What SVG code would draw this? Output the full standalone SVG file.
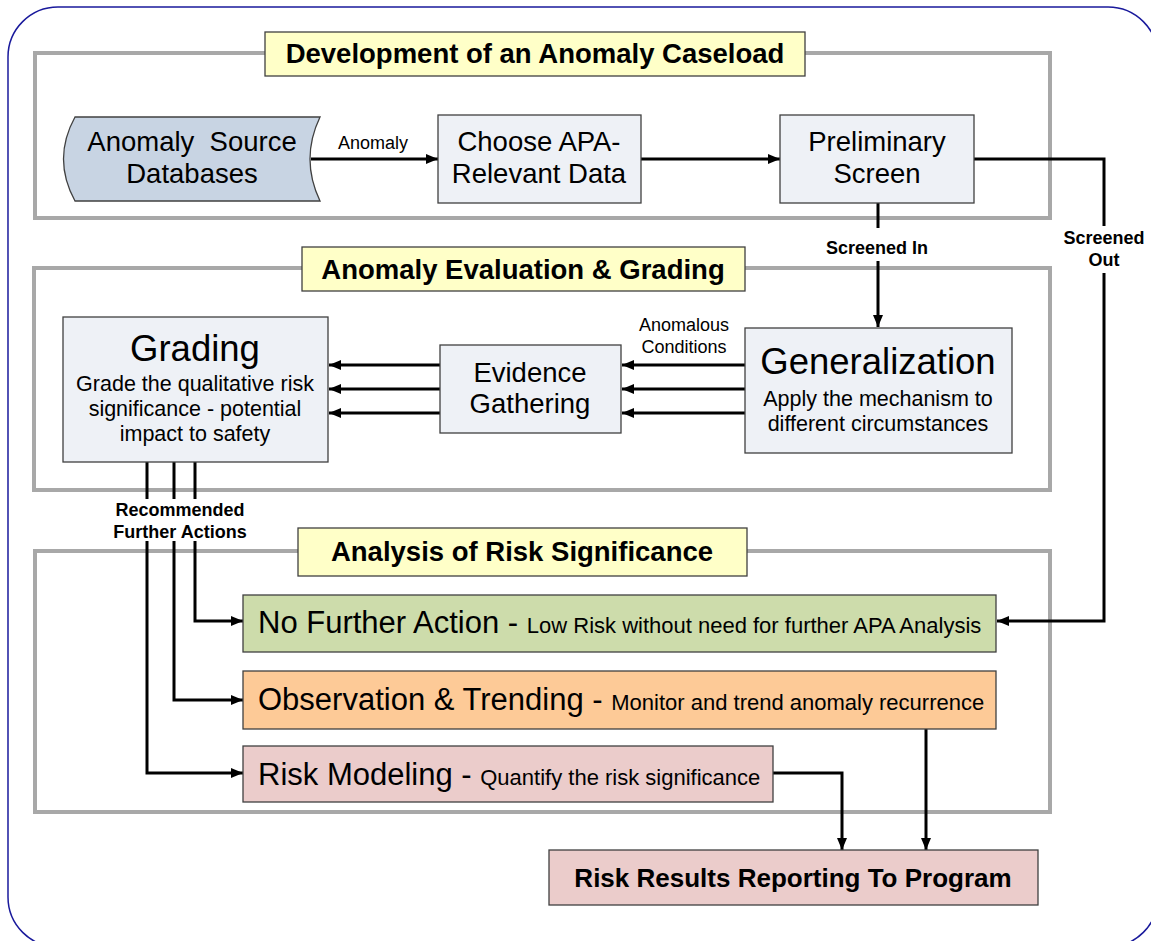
<svg xmlns="http://www.w3.org/2000/svg" width="1151" height="941" viewBox="0 0 1151 941">
<defs>
<marker id="ah" viewBox="0 0 12 10" refX="12" refY="5" markerWidth="12" markerHeight="10" markerUnits="userSpaceOnUse" orient="auto">
<path d="M0,0 L12,5 L0,10 Z" fill="#000"/>
</marker>
<style>
text{font-family:"Liberation Sans",Arial,sans-serif;fill:#000}
.panel{fill:none;stroke:#a8a8a8;stroke-width:4}
.title{fill:#ffffc8;stroke:#404040;stroke-width:1.3}
.tt{font-size:27.5px;font-weight:bold;text-anchor:middle}
.box{fill:#eef1f6;stroke:#404040;stroke-width:1.3}
.nt{font-size:27.5px;text-anchor:middle;white-space:pre}
.sub{font-size:21.5px;text-anchor:middle}
.big{font-size:36.5px;text-anchor:middle}
.lbl{font-size:18px;text-anchor:middle}
.blbl{font-size:18px;font-weight:bold;text-anchor:middle}
.c{fill:none;stroke:#000;stroke-width:3}
.ca{fill:none;stroke:#000;stroke-width:3;marker-end:url(#ah)}
</style>
</defs>
<rect x="8" y="7" width="1150" height="940" rx="50" ry="50" fill="#fff" stroke="#1a1a9c" stroke-width="1.5"/>

<g id="panels">
<rect class="panel" x="35" y="53" width="1015" height="165"/>
<rect class="panel" x="34" y="268" width="1016" height="222"/>
<rect class="panel" x="35" y="551" width="1015" height="261"/>
</g>

<g id="title1"><rect class="title" x="265" y="32" width="540" height="44"/><text class="tt" x="535" y="63">Development of an Anomaly Caseload</text></g>
<g id="title2"><rect class="title" x="302" y="247" width="443" height="44"/><text class="tt" x="523" y="279">Anomaly Evaluation &amp; Grading</text></g>
<g id="title3"><rect class="title" x="298" y="528" width="449" height="48"/><text class="tt" x="522" y="561">Analysis of Risk Significance</text></g>

<g id="connectors">
<line class="ca" x1="311" y1="159" x2="438" y2="159"/>
<line class="ca" x1="641" y1="159" x2="780" y2="159"/>
<path class="ca" d="M878,203 V327"/>
<path class="ca" d="M974,159 H1104 V621 H997"/>
<line class="ca" x1="745" y1="365" x2="622" y2="365"/>
<line class="ca" x1="745" y1="389" x2="622" y2="389"/>
<line class="ca" x1="745" y1="413" x2="622" y2="413"/>
<line class="ca" x1="440" y1="365" x2="329" y2="365"/>
<line class="ca" x1="440" y1="389" x2="329" y2="389"/>
<line class="ca" x1="440" y1="413" x2="329" y2="413"/>
<path class="ca" d="M195,462 V621 H243"/>
<path class="ca" d="M174,462 V700 H243"/>
<path class="ca" d="M147,462 V773 H243"/>
<path class="ca" d="M773,773 H842 V850"/>
<path class="ca" d="M926,729 V850"/>
<rect x="820" y="228" width="116" height="33" fill="#fff"/>
<rect x="1068" y="226" width="72" height="47" fill="#fff"/>
<rect x="110" y="499" width="142" height="42" fill="#fff"/>
<text class="lbl" x="373" y="149">Anomaly</text>
<text class="blbl" x="877" y="254">Screened In</text>
<text class="blbl" x="1104" y="244">Screened</text>
<text class="blbl" x="1104" y="266">Out</text>
<text class="lbl" x="684" y="331">Anomalous</text>
<text class="lbl" x="684" y="353">Conditions</text>
<text class="blbl" x="180" y="516">Recommended</text>
<text class="blbl" x="180" y="538">Further Actions</text>
</g>

<g id="source">
<path d="M75,117 L320,117 Q300,159 320,201 L75,201 Q52,159 75,117 Z" fill="#c8d4e3" stroke="#404040" stroke-width="1.3"/>
<text class="nt" x="192" y="151" xml:space="preserve">Anomaly  Source</text>
<text class="nt" x="192" y="183">Databases</text>
</g>
<g id="choose">
<rect class="box" x="438" y="115" width="203" height="88"/>
<text class="nt" x="539" y="151">Choose APA-</text>
<text class="nt" x="539" y="183">Relevant Data</text>
</g>
<g id="prelim">
<rect class="box" x="780" y="115" width="194" height="88"/>
<text class="nt" x="877" y="151">Preliminary</text>
<text class="nt" x="877" y="183">Screen</text>
</g>
<g id="grading">
<rect class="box" x="63" y="317" width="265" height="145"/>
<text class="big" x="195" y="361">Grading</text>
<text class="sub" x="195" y="391">Grade the qualitative risk</text>
<text class="sub" x="195" y="416">significance - potential</text>
<text class="sub" x="195" y="441">impact to safety</text>
</g>
<g id="evidence">
<rect class="box" x="440" y="345" width="181" height="88"/>
<text class="nt" x="530" y="382">Evidence</text>
<text class="nt" x="530" y="413">Gathering</text>
</g>
<g id="generalization">
<rect class="box" x="745" y="328" width="267" height="125"/>
<text class="big" x="878" y="374">Generalization</text>
<text class="sub" x="878" y="406">Apply the mechanism to</text>
<text class="sub" x="878" y="431">different circumstances</text>
</g>
<g id="nofurther">
<rect x="243" y="595" width="753" height="57" fill="#cddcab" stroke="#404040" stroke-width="1.3"/>
<text x="258" y="633" font-size="31">No Further Action - <tspan font-size="22">Low Risk without need for further APA Analysis</tspan></text>
</g>
<g id="observation">
<rect x="243" y="671" width="753" height="58" fill="#fdca97" stroke="#404040" stroke-width="1.3"/>
<text x="258" y="710" font-size="31">Observation &amp; Trending - <tspan font-size="22">Monitor and trend anomaly recurrence</tspan></text>
</g>
<g id="riskmodeling">
<rect x="243" y="746" width="530" height="56" fill="#ebcccb" stroke="#404040" stroke-width="1.3"/>
<text x="258" y="785" font-size="31">Risk Modeling - <tspan font-size="22">Quantify the risk significance</tspan></text>
</g>
<g id="report">
<rect x="549" y="850" width="489" height="55" fill="#ebcccb" stroke="#404040" stroke-width="1.3"/>
<text x="793" y="887" font-size="26" font-weight="bold" text-anchor="middle">Risk Results Reporting To Program</text>
</g>
</svg>
